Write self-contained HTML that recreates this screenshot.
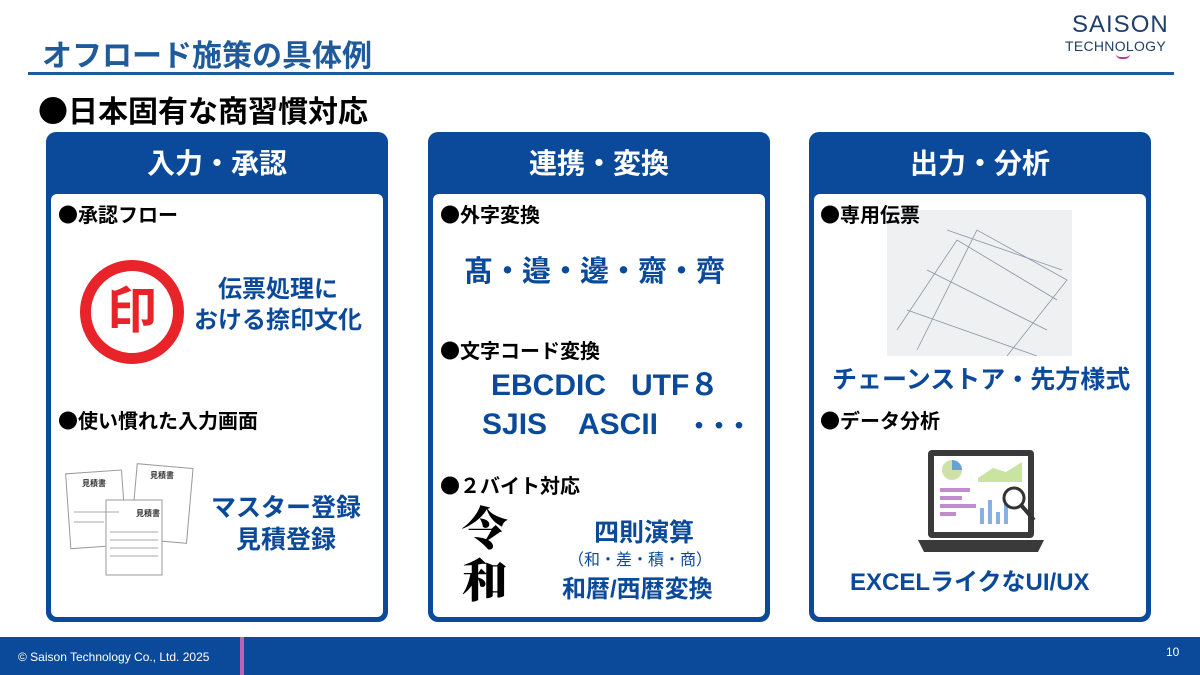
<!DOCTYPE html>
<html><head><meta charset="utf-8"><style>
*{margin:0;padding:0;box-sizing:border-box}
body{width:1200px;height:675px;position:relative;background:#fff;font-family:"Liberation Sans","Noto Sans CJK JP",sans-serif;overflow:hidden}
.a{position:absolute;white-space:nowrap}
.d{font-family:"Noto Sans CJK JP",sans-serif}
.panel{position:absolute;top:132px;width:342px;height:490px;background:#0b4a9a;border-radius:10px}
.panel .hd{position:absolute;left:0;top:0;width:100%;height:62px;color:#fff;font-size:28px;font-weight:bold;text-align:center;line-height:64px}
.panel .in{position:absolute;left:5px;top:62px;right:5px;bottom:5px;background:#fff;border-radius:6px}
.b{font-size:20px;font-weight:bold;color:#000;z-index:2}
.bl{color:#0b4a9a;font-weight:bold}
</style></head><body>
<div class="a" style="left:42px;top:31px;font-size:30px;font-weight:bold;color:#1f5a9a">オフロード施策の具体例</div>
<div class="a" style="left:28px;top:72px;width:1146px;height:3px;background:#1f5a9a"></div>
<div class="a" style="left:1072px;top:11px;font-size:24px;color:#1f3f6a;letter-spacing:1px">SAISON</div>
<div class="a" style="left:1065px;top:38px;font-size:14px;color:#1f3f6a;letter-spacing:.3px">TECHNOLOGY</div>
<div class="a" style="left:1116px;top:54px;width:14px;height:5px;border-bottom:2px solid #c0398a;border-radius:0 0 8px 8px"></div>
<div class="a d" style="left:38px;top:87px;font-size:30px;font-weight:bold;color:#000">●日本固有な商習慣対応</div>

<div class="panel" style="left:46px"><div class="hd">入力・承認</div><div class="in"></div></div>
<div class="panel" style="left:428px"><div class="hd">連携・変換</div><div class="in"></div></div>
<div class="panel" style="left:809px"><div class="hd">出力・分析</div><div class="in"></div></div>

<!-- left -->
<div class="a b d" style="left:58px;top:199px">●承認フロー</div>
<div class="a" style="left:80px;top:260px;width:104px;height:104px;border:11px solid #e8242a;border-radius:50%;color:#e8242a;font-size:50px;font-weight:bold;text-align:center;line-height:80px">印</div>
<div class="a bl" style="left:194px;top:274px;font-size:24px;text-align:center;line-height:31px">伝票処理に<br>おける捺印文化</div>
<div class="a b d" style="left:58px;top:405px">●使い慣れた入力画面</div>
<svg class="a" style="left:64px;top:462px" width="130" height="115">
<g fill="#fff" stroke="#999" stroke-width="1">
<rect x="4" y="10" width="56" height="75" transform="rotate(-4 30 45)"/>
<rect x="70" y="4" width="56" height="75" transform="rotate(5 98 40)"/>
<rect x="42" y="38" width="56" height="75"/>
</g>
<g font-size="8" font-weight="bold" fill="#333"><text x="18" y="24">見積書</text><text x="86" y="16">見積書</text><text x="72" y="54">見積書</text></g>
<g stroke="#aaa"><line x1="46" y1="70" x2="94" y2="70"/><line x1="46" y1="78" x2="94" y2="78"/><line x1="46" y1="86" x2="94" y2="86"/><line x1="46" y1="94" x2="94" y2="94"/><line x1="10" y1="50" x2="55" y2="50"/><line x1="10" y1="60" x2="40" y2="60"/></g>
</svg>
<div class="a bl" style="left:211px;top:492px;font-size:25px;text-align:center;line-height:32px">マスター登録<br>見積登録</div>

<!-- middle -->
<div class="a b d" style="left:440px;top:199px">●外字変換</div>
<div class="a bl" style="left:464px;top:248px;font-size:29px">髙・邉・邊・齋・齊</div>
<div class="a b d" style="left:440px;top:335px">●文字コード変換</div>
<div class="a bl" style="left:491px;top:368px;font-size:30px;line-height:36px">EBCDIC&nbsp;&nbsp;&nbsp;UTF８</div>
<div class="a bl" style="left:482px;top:407px;font-size:30px;line-height:36px">SJIS</div>
<div class="a bl" style="left:578px;top:407px;font-size:30px;line-height:36px">ASCII</div>
<div class="a bl" style="left:686px;top:408px;font-size:26px;line-height:36px;letter-spacing:-6px">・・・</div>
<div class="a b d" style="left:440px;top:470px">●２バイト対応</div>
<div class="a" style="left:462px;top:500px;font-size:46px;font-family:'Noto Serif CJK SC',serif;font-weight:900;line-height:52px">令<br>和</div>
<div class="a bl" style="left:594px;top:513px;font-size:25px">四則演算</div>
<div class="a" style="left:568px;top:546px;font-size:16px;color:#0b4a9a">（和・差・積・商）</div>
<div class="a bl" style="left:562px;top:569px;font-size:24px">和暦/西暦変換</div>

<!-- right -->
<div class="a" style="left:887px;top:210px;width:185px;height:146px;background:#eef0f2"></div>
<svg class="a" style="left:887px;top:210px" width="185" height="146"><g stroke="#8a95a5" fill="none" stroke-width=".8">
<path d="M30 140 L90 20 L180 70 L120 146"/><path d="M10 120 L70 30 L170 90"/><path d="M60 20 L175 60"/><path d="M20 100 L150 146"/><path d="M40 60 L160 120"/></g></svg>
<div class="a b d" style="left:820px;top:199px">●専用伝票</div>
<div class="a bl" style="left:832px;top:360px;font-size:25px">チェーンストア・先方様式</div>
<div class="a b d" style="left:820px;top:405px">●データ分析</div>
<svg class="a" style="left:918px;top:448px" width="126" height="106">
<rect x="10" y="2" width="106" height="88" rx="4" fill="#3a3a3a"/>
<rect x="16" y="8" width="94" height="76" fill="#fff"/>
<path d="M0 92 H126 L120 104 H6 Z" fill="#3a3a3a"/>
<circle cx="34" cy="22" r="10" fill="#cfe0a8"/><path d="M34 22 V12 A10 10 0 0 1 44 22 Z" fill="#6aa0d8"/>
<path d="M60 30 L75 20 L88 24 L104 14 V34 H60Z" fill="#c9e3a0"/>
<g fill="#c48ad0"><rect x="22" y="40" width="30" height="4"/><rect x="22" y="48" width="22" height="4"/><rect x="22" y="56" width="36" height="4"/><rect x="22" y="64" width="16" height="4"/></g>
<g fill="#8ab0e0"><rect x="62" y="60" width="4" height="16"/><rect x="70" y="52" width="4" height="24"/><rect x="78" y="64" width="4" height="12"/><rect x="86" y="56" width="4" height="20"/></g>
<circle cx="96" cy="50" r="10" fill="none" stroke="#333" stroke-width="3"/><line x1="103" y1="57" x2="116" y2="72" stroke="#333" stroke-width="4"/>
</svg>
<div class="a bl" style="left:850px;top:562px;font-size:24px">EXCELライクなUI/UX</div>

<!-- footer -->
<div class="a" style="left:0;top:637px;width:1200px;height:38px;background:#0b4a9a"></div>
<div class="a" style="left:240px;top:637px;width:4px;height:38px;background:#c060b0"></div>
<div class="a" style="left:18px;top:650px;font-size:12px;color:#fff">© Saison Technology Co., Ltd. 2025</div>
<div class="a" style="left:1166px;top:645px;font-size:12px;color:#fff">10</div>
</body></html>
